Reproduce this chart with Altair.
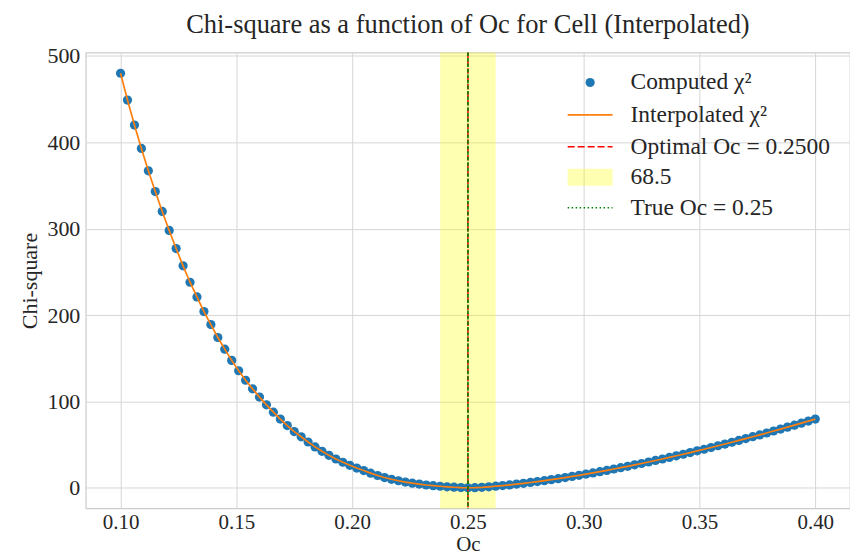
import altair as alt
import numpy as np
import pandas as pd

# ---------------- data ----------------
oc = np.round(np.linspace(0.10, 0.40, 101), 4)
chi2 = [
    480, 449, 420, 393, 367, 343, 320, 298, 277, 257, 238, 221, 204, 189, 174,
    160.5, 147.5, 135.5, 124.5, 114.5, 105,
    96, 87.5, 79.5, 72, 65, 59, 53, 47.3, 42.2, 37.5, 33.3, 29.5, 26.0, 22.8,
    19.9, 16.9, 14.2, 11.8, 9.8, 8.1, 6.6, 5.3, 4.2, 3.2, 2.4, 1.7, 1.1, 0.6, 0.2, 0.0,
    0.1, 0.5, 1.1, 1.8, 2.5, 3.3, 4.2, 5.1, 6.1, 7.1, 8.2, 9.4, 10.5, 11.8, 13.1,
    14.4, 15.8, 17.2, 18.6, 20.1, 21.7, 23.2, 24.8, 26.5, 28.1, 29.8, 31.6, 33.3,
    35.1, 37.0, 38.8, 40.7, 42.7, 44.6, 46.6, 48.6, 50.6, 52.7, 54.8, 56.9, 59.1,
    61.2, 63.4, 65.7, 67.9, 70.2, 72.5, 74.8, 77.2, 79.5,
]
optimal_oc = [0.25]
true_oc = [0.25]
band_lo = [0.238]
band_hi = [0.262]
x_ticks = [0.10, 0.15, 0.20, 0.25, 0.30, 0.35, 0.40]
y_ticks = [0, 100, 200, 300, 400, 500]
legend_labels = ["Computed χ²", "Interpolated χ²", "Optimal Oc = 0.2500", "68.5", "True Oc = 0.25"]

# ---------------- style ----------------
W, H = 766, 457
FONT = "Liberation Serif"
TXT = "#262626"

df = pd.DataFrame({"oc": oc, "chi2": chi2})
band_df = pd.DataFrame({"lo": band_lo, "hi": band_hi})
opt_df = pd.DataFrame({"v": optimal_oc})
true_df = pd.DataFrame({"v": true_oc})
one = pd.DataFrame({"a": [0]})

xs = alt.Scale(domain=[0.085, 0.415], nice=False, zero=False)
ys = alt.Scale(domain=[-24, 504], nice=False, zero=False)
xaxis = alt.Axis(values=x_ticks, format=".2f", labelPadding=3, titlePadding=1,
                 labelFontSize=21, titleFontSize=21)
yaxis = alt.Axis(values=y_ticks, format="d", labelPadding=6, titlePadding=5)


def X(field):
    return alt.X(field, type="quantitative", scale=xs, axis=xaxis, title="Oc")


span = alt.Chart(band_df).mark_rect(color="#ffff00", opacity=0.3).encode(
    x=X("lo"), x2="hi", y=alt.value(0), y2=alt.value(H)
)

points = alt.Chart(df).mark_circle(size=85, color="#1f77b4", opacity=1).encode(
    x=X("oc"), y=alt.Y("chi2:Q", scale=ys, axis=yaxis, title="Chi-square")
)

line = alt.Chart(df).mark_line(color="#ff7f0e", strokeWidth=1.7).encode(
    x=X("oc"), y=alt.Y("chi2:Q", scale=ys, axis=yaxis, title="Chi-square")
)

opt_rule = alt.Chart(opt_df).mark_rule(color="#ff0000", strokeWidth=1.5, strokeDash=[5.5, 2.4]).encode(
    x=X("v")
)
true_rule = alt.Chart(true_df).mark_rule(color="#008000", strokeWidth=1.6, strokeDash=[3.5, 2]).encode(
    x=X("v")
)

# ---------------- legend (drawn manually) ----------------
LX0, LX1 = 483, 528
LXC = (LX0 + LX1) / 2
LTX = 546
rows = [30, 62.5, 94.5, 125, 155.5]

leg = [
    alt.Chart(one).mark_circle(size=85, color="#1f77b4", opacity=1).encode(
        x=alt.value(LXC), y=alt.value(rows[0])),
    alt.Chart(one).mark_rule(color="#ff7f0e", strokeWidth=1.7).encode(
        x=alt.value(LX0), x2=alt.value(LX1), y=alt.value(rows[1])),
    alt.Chart(one).mark_rule(color="#ff0000", strokeWidth=1.5, strokeDash=[7, 3]).encode(
        x=alt.value(LX0), x2=alt.value(LX1), y=alt.value(rows[2])),
    alt.Chart(one).mark_rect(color="#ffff00", opacity=0.3).encode(
        x=alt.value(LX0), x2=alt.value(LX1), y=alt.value(rows[3] - 8.5), y2=alt.value(rows[3] + 8.5)),
    alt.Chart(one).mark_rule(color="#008000", strokeWidth=1.5, strokeDash=[1.5, 2.5]).encode(
        x=alt.value(LX0), x2=alt.value(LX1), y=alt.value(rows[4])),
]
for lab, ry in zip(legend_labels, rows):
    leg.append(
        alt.Chart(one).mark_text(text=lab, align="left", baseline="middle", font=FONT,
                                 fontSize=23.5, color=TXT).encode(
            x=alt.value(LTX), y=alt.value(ry))
    )

chart = alt.layer(span, points, line, opt_rule, true_rule, *leg).properties(
    width=W,
    height=H,
    title="Chi-square as a function of Oc for Cell (Interpolated)",
    autosize=alt.AutoSizeParams(type="none"),
    padding={"left": 78, "top": 44, "right": 0, "bottom": 48},
    background="white",
).configure_view(
    stroke="#cccccc", strokeWidth=1.25
).configure_axis(
    grid=True, gridColor="#d6d6d6", gridWidth=1, domain=False, ticks=False,
    labelFont=FONT, labelFontSize=22, labelColor=TXT,
    titleFont=FONT, titleFontSize=22, titleColor=TXT, titleFontWeight="normal",
).configure_title(
    font=FONT, fontSize=26.5, fontWeight="normal", color=TXT, offset=7, anchor="middle"
)

chart.save("out.html", embed_options={"renderer": "svg", "actions": False})
